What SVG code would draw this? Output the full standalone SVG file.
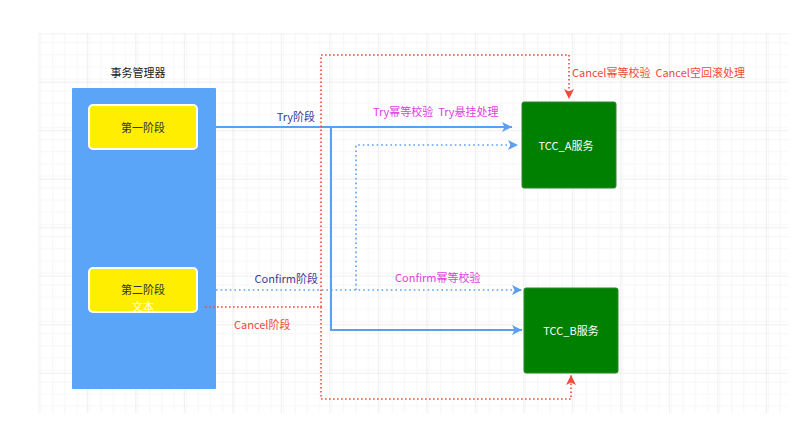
<svg xmlns="http://www.w3.org/2000/svg" width="800" height="423" viewBox="0 0 800 423">
<defs>
<pattern id="minor" x="38.3" y="33.2" width="12.125" height="12.125" patternUnits="userSpaceOnUse">
<path d="M0 0H12.125M0 0V12.125" fill="none" stroke="#eeeeee" stroke-width="1"/>
</pattern>
<pattern id="major" x="38.3" y="33.2" width="48.5" height="48.5" patternUnits="userSpaceOnUse">
<rect width="48.5" height="48.5" fill="url(#minor)"/>
<path d="M0 0H48.5M0 0V48.5" fill="none" stroke="#e0e0e0" stroke-width="1"/>
</pattern>
<marker id="ab" viewBox="0 0 10 10" refX="10" refY="5" markerWidth="10" markerHeight="10" markerUnits="userSpaceOnUse" orient="auto">
<path d="M0 0L10 5L0 10L2.5 5Z" fill="#5b9ff0"/>
</marker>
<marker id="ar" viewBox="0 0 10 10" refX="10" refY="5" markerWidth="10" markerHeight="10" markerUnits="userSpaceOnUse" orient="auto">
<path d="M0 0L10 5L0 10L2.5 5Z" fill="#f04a3a"/>
</marker>
<style>
text{font-family:"Noto Sans CJK SC","Liberation Sans",sans-serif;font-size:11px}
.blue{fill:none;stroke:#5b9ff0;stroke-width:2}
.bdot{fill:none;stroke:#5b9ff0;stroke-width:1.6;stroke-dasharray:1.6 3}
.rdot{fill:none;stroke:#f04a3a;stroke-width:1.6;stroke-dasharray:1.6 2.4}
.yel{fill:#ffee00;stroke:#ffffff;stroke-width:2}
.green{fill:#008000;stroke:#2a8a2a;stroke-width:1}
</style>
</defs>
<rect x="0" y="0" width="800" height="423" fill="#ffffff"/>
<rect x="38.3" y="33.2" width="750" height="380" fill="url(#major)"/>
<g id="manager">
<text x="138" y="77" text-anchor="middle" fill="#222">事务管理器</text>
<rect x="72" y="88" width="144" height="301" fill="#5aa5f7" rx="1"/>
</g>
<g id="phase1">
<rect class="yel" x="89" y="105" width="108" height="44" rx="4"/>
<text x="143" y="132" text-anchor="middle" fill="#333">第一阶段</text>
</g>
<g id="phase2">
<rect class="yel" x="89" y="268" width="108" height="44" rx="4"/>
<text x="143" y="294" text-anchor="middle" fill="#333">第二阶段</text>
<text x="143" y="311" text-anchor="middle" fill="#ffffff">文本</text>
</g>
<g id="tccA">
<rect class="green" x="522" y="102" width="94" height="86" rx="2"/>
<text x="566" y="150" text-anchor="middle" fill="#ffffff">TCC_A服务</text>
</g>
<g id="tccB">
<rect class="green" x="524" y="288" width="94" height="85" rx="2"/>
<text x="571" y="335" text-anchor="middle" fill="#ffffff">TCC_B服务</text>
</g>
<g id="connectors">
<path class="blue" d="M216 127H512" marker-end="url(#ab)"/>
<path class="blue" d="M331 127V330H522" marker-end="url(#ab)"/>
<path class="bdot" d="M216 290H522" marker-end="url(#ab)"/>
<path class="bdot" d="M356 290V145H518" marker-end="url(#ab)"/>
<path class="rdot" d="M205 307H321"/>
<path class="rdot" d="M321 307V55H569V99" marker-end="url(#ar)"/>
<path class="rdot" d="M321 307V399H571V375" marker-end="url(#ar)"/>
<text x="315" y="121" text-anchor="end" fill="#3b3b96">Try阶段</text>
<text x="373" y="116" fill="#e040e0" xml:space="preserve">Try幂等校验  Try悬挂处理</text>
<text x="318" y="283" text-anchor="end" fill="#3b3b96">Confirm阶段</text>
<text x="395" y="282" fill="#e040e0">Confirm幂等校验</text>
<text x="234" y="329" fill="#f04a3a">Cancel阶段</text>
<text x="572" y="77" fill="#f04a3a" xml:space="preserve">Cancel幂等校验  Cancel空回滚处理</text>
</g>
</svg>
